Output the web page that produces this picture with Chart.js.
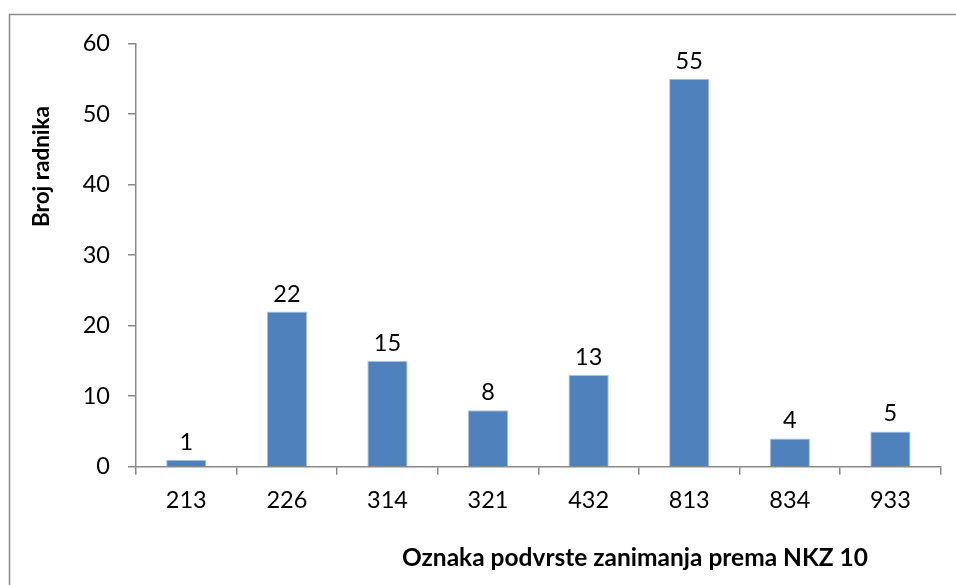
<!DOCTYPE html>
<html>
<head>
<meta charset="utf-8">
<script src="https://cdn.jsdelivr.net/npm/chart.js@4/dist/chart.umd.min.js"></script>
<style>
  html, body { margin: 0; padding: 0; background: #fff; }
</style>
</head>
<body>
<canvas id="graf_nkz" width="956" height="585"></canvas>
<script>
// podaci
var oznake = ['213', '226', '314', '321', '432', '813', '834', '933'];
var brojRadnika = [1, 22, 15, 8, 13, 55, 4, 5];
var yNaslov = 'Broj radnika';
var xNaslov = 'Oznaka podvrste zanimanja prema NKZ 10';

var font = 'Lato, "Open Sans", sans-serif';
var sivo = '#898989';

// okvir, naslovi osi i vrijednosti iznad stupaca
var dodaci = {
  id: 'dodaci',
  beforeDraw: function (chart) {
    var c = chart.ctx;
    c.save();
    c.strokeStyle = '#8c8c8c';
    c.lineWidth = 1.5;
    c.strokeRect(9.5, 14.5, 1000, 1000);
    c.restore();
  },
  afterDatasetsDraw: function (chart) {
    var c = chart.ctx;
    var area = chart.chartArea;
    c.save();
    c.fillStyle = '#000';
    c.font = '23.5px ' + font;
    c.textAlign = 'center';
    c.textBaseline = 'alphabetic';
    chart.getDatasetMeta(0).data.forEach(function (bar, i) {
      c.fillText(String(brojRadnika[i]), bar.x, bar.y - 10);
    });
    c.font = 'bold 24.5px ' + font;
    c.textBaseline = 'middle';
    c.fillText(xNaslov, area.left + 499, area.bottom + 91);
    c.font = 'bold 22.5px ' + font;
    c.translate(area.left - 94, area.top + 123);
    c.rotate(-Math.PI / 2);
    c.fillText(yNaslov, 0, 0);
    c.restore();
  }
};

var ctx = document.getElementById('graf_nkz').getContext('2d');

var graf = new Chart(ctx, {
  type: 'bar',
  data: {
    labels: oznake,
    datasets: [{
      data: brojRadnika,
      backgroundColor: '#4F81BD',
      borderColor: '#A7C1E2',
      borderWidth: 1,
      barPercentage: 0.4,
      categoryPercentage: 1
    }]
  },
  options: {
    responsive: false,
    animation: false,
    layout: { padding: { top: 43.5, right: 15.3, bottom: 0, left: 0 } },
    plugins: { legend: { display: false }, tooltip: { enabled: false } },
    scales: {
      x: {
        grid: { display: true, drawOnChartArea: false, drawTicks: true, tickLength: 8, color: sivo, lineWidth: 1.5, offset: true },
        border: { display: true, color: sivo, width: 1.5 },
        ticks: { color: '#000', font: { family: font, size: 23.5 }, padding: 12, maxRotation: 0 },
        afterFit: function (s) { s.height = 118.3; }
      },
      y: {
        min: 0,
        max: 60,
        grid: { display: true, drawOnChartArea: false, drawTicks: true, tickLength: 8, color: sivo, lineWidth: 1.5 },
        border: { display: true, color: sivo, width: 1.5 },
        ticks: { stepSize: 10, color: '#000', font: { family: font, size: 23.5 }, padding: 18 },
        afterFit: function (s) { s.width = 136; }
      }
    }
  },
  plugins: [dodaci]
});
</script>
</body>
</html>
